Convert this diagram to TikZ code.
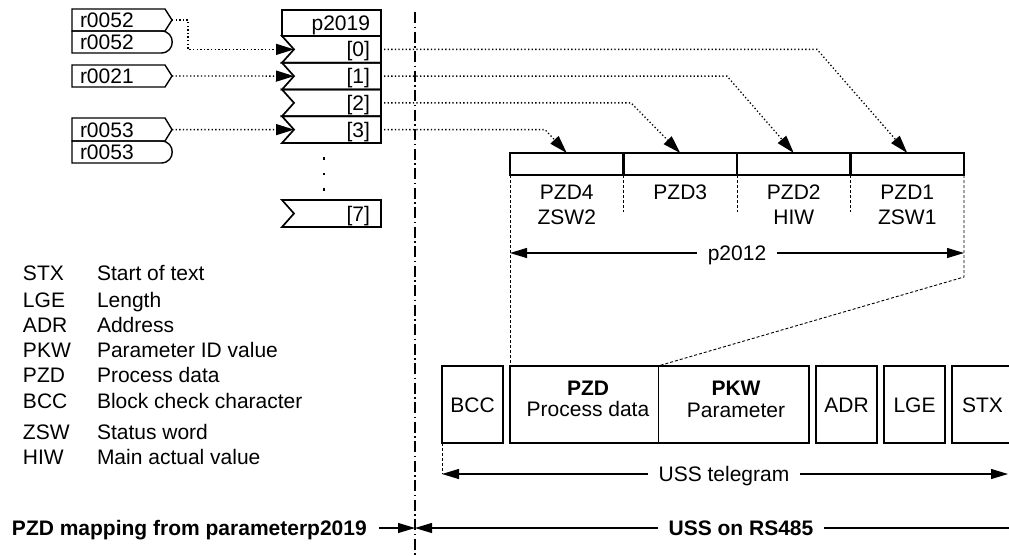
\documentclass[tikz,border=0pt]{standalone}
\usepackage{fontspec}
\setmainfont{Liberation Sans}
\usetikzlibrary{arrows.meta}
\begin{document}
\begin{tikzpicture}[x=1pt,y=-1pt,
  every node/.style={inner sep=0pt, outer sep=0pt, font=\fontsize{21}{25}\selectfont},
  inbox/.style={draw, line width=1.4pt},
  rowbox/.style={draw, line width=1.7pt},
  cell/.style={draw, line width=2.2pt, minimum width=113.5pt, minimum height=22pt},
  tbox/.style={draw, line width=1.9pt, minimum height=77pt},
  dotline/.style={line width=1.3pt, dash pattern=on 1.3pt off 2.3pt},
  dashline/.style={line width=0.9pt, dash pattern=on 3pt off 2pt},
  axisline/.style={line width=1.1pt, dash pattern=on 11pt off 3.5pt on 1.5pt off 3.5pt},
  arr/.style={-{Triangle[length=18pt,width=11pt]}},
  dim/.style={line width=1.1pt},
  bigtip/.style={{Triangle[length=17pt,width=10pt]}-{Triangle[length=17pt,width=10pt]}},
  lbl/.style={fill=white, inner xsep=11pt, inner ysep=2pt},
  boldtxt/.style={font=\fontsize{21}{25}\selectfont\bfseries},
]
\useasboundingbox (0,0) rectangle (1009,555);
\clip (0,0) rectangle (1009,555);

% ---------- input signal boxes ----------
\draw[inbox] (72,9) -- (165,9) -- (172,20) -- (165,31) -- (72,31) -- cycle;
\coordinate (srcA) at (172,20);
\node[anchor=base west] (tA) at (80,27.5) {r0052};
\draw[inbox] (72,31) -- (161,31) .. controls (176,31) and (176,53) .. (161,53) -- (72,53) -- cycle;
\node[anchor=base west] (tA2) at (80,49.5) {r0052};

\draw[inbox] (72,65) -- (165,65) -- (172,76) -- (165,87) -- (72,87) -- cycle;
\coordinate (srcB) at (172,76);
\node[anchor=base west] (tB) at (80,83.5) {r0021};

\draw[inbox] (72,118) -- (165,118) -- (172,129.6) -- (165,141) -- (72,141) -- cycle;
\coordinate (srcC) at (172,129.6);
\node[anchor=base west] (tC) at (80,137) {r0053};
\draw[inbox] (72,141) -- (161,141) .. controls (176,141) and (176,163) .. (161,163) -- (72,163) -- cycle;
\node[anchor=base west] (tC2) at (80,159.5) {r0053};

% ---------- p2019 block ----------
\node[rowbox, minimum width=99pt, minimum height=26pt] (hdr) at (331.5,23) {};
\node[anchor=base east] (hdrtxt) at (370,30.5) {p2019};
\foreach \i in {0,...,3}{
  \pgfmathsetmacro{\rowT}{36+26.75*\i}
  \pgfmathsetmacro{\rowB}{\rowT+26.75}
  \pgfmathsetmacro{\rowM}{\rowT+13.375}
  \draw[rowbox] (282,\rowT) -- (381,\rowT) -- (381,\rowB) -- (282,\rowB) -- (294,\rowM) -- cycle;
  \coordinate (in\i) at (294,\rowM);
  \coordinate (out\i) at (381,\rowM);
  \node[anchor=base east] (idx\i) at (370,{\rowM+7.5}) {[\i]};
}
\draw[rowbox] (282,200) -- (381,200) -- (381,227) -- (282,227) -- (294,213.5) -- cycle;
\node[anchor=base east] (idx7) at (370,221) {[7]};
\foreach \yy in {157,172.5,188}{
  \fill (322.7,\yy) rectangle ++(2.6,2.6);
}

% ---------- separator ----------
\coordinate (axT) at (415,12);
\coordinate (axB) at (415,555);
\draw[axisline] (axT) -- (axB);

% ---------- input connectors ----------
\draw[dotline,arr] (srcA) -- ++(16,0) |- (in0);
\draw[dotline,arr] (srcB) -- (in1);
\draw[dotline,arr] (srcC) -- (in3);

% ---------- PZD row ----------
\node[cell] (pzd4) at (566.75,164) {};
\node[cell] (pzd3) at (680.25,164) {};
\node[cell] (pzd2) at (793.75,164) {};
\node[cell] (pzd1) at (907.25,164) {};
\node[anchor=base] (l4a) at (566.75,199.5) {PZD4};
\node[anchor=base] (l4b) at (566.75,224.5) {ZSW2};
\node[anchor=base] (l3a) at (680.25,199.5) {PZD3};
\node[anchor=base] (l2a) at (793.75,199.5) {PZD2};
\node[anchor=base] (l2b) at (793.75,224.5) {HIW};
\node[anchor=base] (l1a) at (907.25,199.5) {PZD1};
\node[anchor=base] (l1b) at (907.25,224.5) {ZSW1};

% ---------- output connectors ----------
\coordinate (c0) at (817,0);
\coordinate (c1) at (727,0);
\coordinate (c2) at (631,0);
\coordinate (c3) at (545,0);
\draw[dotline,arr,shorten <=3pt] (out0) -- (out0 -| c0) -- (pzd1.north);
\draw[dotline,arr,shorten <=3pt] (out1) -- (out1 -| c1) -- (pzd2.north);
\draw[dotline,arr,shorten <=3pt] (out2) -- (out2 -| c2) -- (pzd3.north);
\draw[dotline,arr,shorten <=3pt] (out3) -- (out3 -| c3) -- (pzd4.north);

% ---------- telegram ----------
\node[tbox, minimum width=61pt] (bcc) at (472.5,404.5) {};
\node[tbox, minimum width=299pt] (pzdpkw) at (659.5,404.5) {};
\coordinate (div) at (658,366);
\coordinate (divb) at (658,443);
\draw[line width=1pt] (div) -- (divb);
\node[tbox, minimum width=61pt] (adr) at (846.5,404.5) {};
\node[tbox, minimum width=61pt] (lge) at (914.5,404.5) {};
\node[tbox, minimum width=61pt] (stx) at (982.5,404.5) {};
\node[anchor=base] (tbcc) at (472.5,412.5) {BCC};
\node[anchor=base, boldtxt] (tpzd) at (588,395.5) {PZD};
\node[anchor=base] (tpzd2) at (588,416) {Process data};
\node[anchor=base, boldtxt] (tpkw) at (736,395.5) {PKW};
\node[anchor=base] (tpkw2) at (736,417) {Parameter};
\node[anchor=base] (tadr) at (846.5,412.5) {ADR};
\node[anchor=base] (tlge) at (914.5,412.5) {LGE};
\node[anchor=base] (tstx) at (982.5,412.5) {STX};

% ---------- projection lines ----------
\draw[dashline] (pzd4.south east) -- ++(0,37);
\draw[dashline] (pzd3.south east) -- ++(0,37);
\draw[dashline] (pzd2.south east) -- ++(0,37);
\draw[dashline] (pzd4.south west) -- (pzdpkw.north west);
\draw[dashline] (pzd1.south east) -- ++(0,102) -- (div);

% ---------- p2012 ----------
\coordinate (p12L) at (510,253);
\coordinate (p12R) at (964,253);
\draw[dim,bigtip] (p12L) -- (p12R);
\node[lbl, anchor=base] (p12) at (737,260.5) {p2012};

% ---------- USS telegram ----------
\coordinate (utL) at (442,474);
\coordinate (utR) at (1008,474);
\draw[dashline] (bcc.south west) -- (utL);
\draw[dim,bigtip] (utL) -- (utR);
\node[lbl, anchor=base] (ut) at (724,481.5) {USS telegram};

% ---------- legend ----------
\foreach \ab/\de/\yy in {STX/Start of text/273, LGE/Length/300, ADR/Address/325,
    PKW/Parameter ID value/350, PZD/Process data/375, BCC/Block check character/401,
    ZSW/Status word/432, HIW/Main actual value/457}{
  \node[anchor=base west] (ab\ab) at (23,{\yy+7.5}) {\ab};
  \node[anchor=base west] (de\ab) at (97,{\yy+7.5}) {\de};
}

% ---------- bottom ----------
\node[anchor=base west, boldtxt] (map) at (12,535.5) {PZD mapping from parameterp2019};
\coordinate (mapA) at (379,528);
\coordinate (sep) at (415,528);
\coordinate (rsR) at (1009,528);
\draw[dim,{Triangle[length=17pt,width=10pt]}-] (sep) -- (rsR);
\draw[dim,-{Triangle[length=17pt,width=10pt]}] (mapA) -- (sep);
\node[lbl, anchor=base, boldtxt] (rs) at (741,535.5) {USS on RS485};
\end{tikzpicture}
\end{document}
